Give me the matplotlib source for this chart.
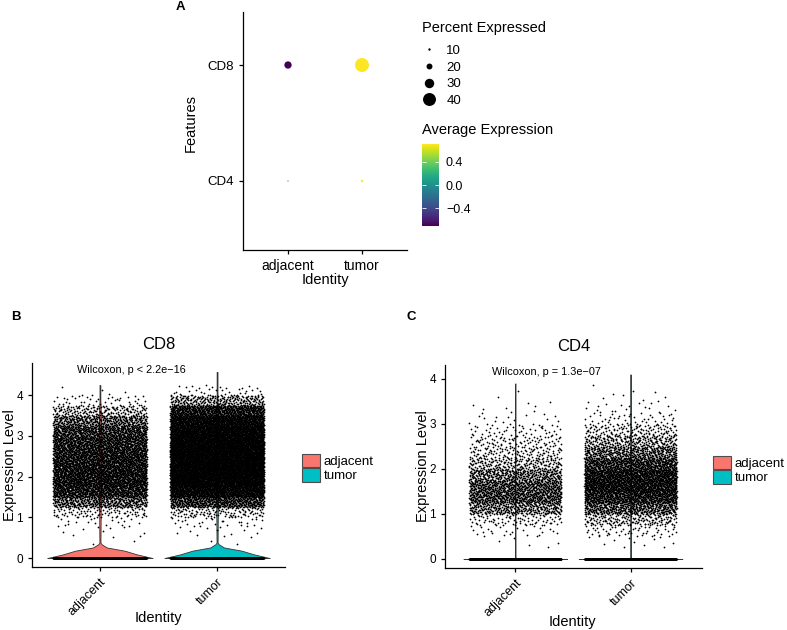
import numpy as np
import matplotlib
matplotlib.use("Agg")
import matplotlib.pyplot as plt
from matplotlib.patches import Patch
from matplotlib.lines import Line2D
from matplotlib.colors import Normalize
from matplotlib.cm import ScalarMappable

plt.rcParams['font.family'] = ['Liberation Sans', 'DejaVu Sans']

identities = ['adjacent', 'tumor']
fill_colors = ['#F8766D', '#00BFC4']

# panel A, DotPlot (rows = features, cols = identities)
features = ['CD4', 'CD8']
pct_expressed = [[6, 10], [24, 43]]
avg_expression = [[-0.707, 0.707], [-0.707, 0.707]]
size_breaks = [10, 20, 30, 40]
color_breaks = [-0.4, 0.0, 0.4]

# panels B/C, non-zero cells per 0.25 expression bin (read off the jitter clouds)
bin_edges = np.arange(0.25, 4.51, 0.25)
cd8_adjacent = [2, 8, 20, 95, 380, 680, 760, 760, 720, 680, 640, 550, 380, 170, 40, 6, 0]
cd8_tumor = [2, 10, 28, 120, 560, 1030, 1270, 1350, 1350, 1350, 1270, 1190, 1030, 720, 240, 34, 0]
cd4_adjacent = [5, 25, 85, 320, 500, 470, 340, 185, 110, 80, 45, 15, 8, 2, 1, 0, 0]
cd4_tumor = [10, 55, 170, 450, 720, 880, 820, 620, 380, 230, 120, 42, 18, 8, 2, 0, 0]
zero_cells = [800, 800]
cd8_max = [4.25, 4.57]
cd4_max = [3.9, 4.1]

# violin outline: height and relative half width
cd8_violin_y = [0, 0.09, 0.18, 0.26, 0.34, 0.38, 1.2, 2.4, 3.6, 3.9]
cd8_violin_w = [1.0, 0.7, 0.47, 0.13, 0.03, 0.01, 0.015, 0.03, 0.015, 0.008]
cd4_violin_y = [0, 0.015, 0.03]
cd4_violin_w = [1.0, 0.04, 0.004]

W, H = 787, 630


def box(l, t, r, b):
    # pixel box -> figure fraction
    return [l / W, 1 - b / H, (r - l) / W, (b - t) / H]


def dot_px(p):
    return 1 + 13 * (p - 6) / 37.0


def halton(n, base):
    i = np.arange(1, n + 1)
    f, r = 1.0, np.zeros(n)
    while (i > 0).any():
        f /= base
        r += f * (i % base)
        i //= base
    return r


def cells(counts):
    counts = np.asarray(counts, float)
    n = int(counts.sum())
    cdf = np.concatenate([[0], np.cumsum(counts)]) / n
    return np.interp(halton(n, 2), cdf, bin_edges)


def style(ax):
    for s in ['top', 'right']:
        ax.spines[s].set_visible(False)
    for s in ['left', 'bottom']:
        ax.spines[s].set_linewidth(0.9)
    ax.tick_params(length=3, width=0.9, colors='black')


def violin_panel(ax, groups, vy, vw, vmax, title, ptext, ptext_y):
    for i, (counts, c) in enumerate(zip(groups, fill_colors)):
        y = np.array(vy + [vmax[i]])
        w = np.array(vw + [vw[-1]]) * 0.45
        ax.fill_betweenx(y, i - w, i + w, facecolor=c, edgecolor='#333333', lw=0.6, zorder=1)
        vals = np.concatenate([np.zeros(zero_cells[i]), cells(counts)])
        jit = np.concatenate([halton(zero_cells[i], 3), halton(len(vals) - zero_cells[i], 3)])
        ax.scatter(i + (jit - 0.5) * 0.8, vals, s=1.6, c='black', linewidths=0, zorder=2)
    style(ax)
    ax.set_xticks([0, 1])
    ax.set_xticklabels(identities, rotation=45, ha='right', va='top', rotation_mode='anchor', fontsize=9)
    ax.set_yticks([0, 1, 2, 3, 4])
    ax.tick_params(axis='y', labelsize=8.5)
    ax.set_title(title, fontsize=12, pad=10)
    ax.set_xlabel('Identity', fontsize=10.5, va='center')
    ax.set_ylabel('Expression Level', fontsize=10.5, va='center')
    ax.text(-0.2, ptext_y, ptext, fontsize=7.8, ha='left', va='center')


fig = plt.figure(figsize=(W / 100, H / 100), dpi=100)

# ---- A
axA = fig.add_axes(box(243, 12, 407, 250))
norm = Normalize(-0.707, 0.707)
for fi, feat in enumerate(features):
    sizes = [(dot_px(p) * 0.72) ** 2 for p in pct_expressed[fi]]
    axA.scatter([0, 1], [fi, fi], s=sizes, c=avg_expression[fi], cmap='viridis', norm=norm,
                linewidths=0)
style(axA)
axA.set_xlim(-0.608, 1.608)
axA.set_ylim(-0.595, 1.457)
axA.set_xticks([0, 1])
axA.set_xticklabels(identities, fontsize=10)
axA.set_yticks([0, 1])
axA.set_yticklabels(features, fontsize=9.5)
axA.set_xlabel('Identity', fontsize=10.5, va='center')
axA.set_ylabel('Features', fontsize=10.5, va='center')
axA.xaxis.set_label_coords(0.5, -0.126)
axA.yaxis.set_label_coords(-0.317, 0.534)

size_handles = [Line2D([], [], ls='', marker='o', color='black', markeredgewidth=0,
                       markersize=dot_px(b) * 0.72) for b in size_breaks]
leg = fig.legend(size_handles, [str(b) for b in size_breaks], title='Percent Expressed',
                 loc='upper left', bbox_to_anchor=(422 / W, 1 - 21 / H), frameon=False,
                 fontsize=9.5, title_fontsize=10.5, alignment='left', handlelength=1.0,
                 handletextpad=0.85, labelspacing=0.33, borderpad=0, borderaxespad=0)
leg._legend_box.sep = 7

cax = fig.add_axes(box(422, 144, 439, 226))
cb = fig.colorbar(ScalarMappable(norm=norm, cmap='viridis'), cax=cax, ticks=color_breaks)
cb.outline.set_visible(False)
cb.set_ticklabels(['\u22120.4', '0.0', '0.4'])
cax.tick_params(direction='in', color='white', length=3, width=0.6, labelsize=9, pad=5,
                left=True)
fig.text(422 / W, 1 - 130 / H, 'Average Expression', fontsize=10.5, va='center', ha='left')

# ---- B
axB = fig.add_axes(box(32, 363, 285, 567))
violin_panel(axB, [cd8_adjacent, cd8_tumor], cd8_violin_y, cd8_violin_w, cd8_max,
             'CD8', 'Wilcoxon, p < 2.2e\u221216', 4.62)
axB.set_xlim(-0.58, 1.58)
axB.set_ylim(-0.22, 4.79)
axB.xaxis.set_label_coords(0.498, -0.25)
axB.yaxis.set_label_coords(-0.087, 0.5)

# ---- C
axC = fig.add_axes(box(445, 365, 702, 568))
violin_panel(axC, [cd4_adjacent, cd4_tumor], cd4_violin_y, cd4_violin_w, cd4_max,
             'CD4', 'Wilcoxon, p = 1.3e\u221207', 4.16)
axC.set_xlim(-0.61, 1.62)
axC.set_ylim(-0.2, 4.31)
axC.xaxis.set_label_coords(0.494, -0.266)
axC.yaxis.set_label_coords(-0.0856, 0.5)

fill_handles = [Patch(facecolor=c, edgecolor='#4d4d4d', lw=0.8) for c in fill_colors]
for x0, yc in [(302, 468), (713, 470)]:
    fig.legend(fill_handles, identities, loc='center left', bbox_to_anchor=(x0 / W, 1 - yc / H),
               frameon=False, fontsize=9.5, handlelength=1.35, handleheight=1.2,
               labelspacing=0, handletextpad=0.3, borderpad=0, borderaxespad=0)

for lab, x, y in [('A', 180, 7), ('B', 16, 317), ('C', 411, 317)]:
    fig.text(x / W, 1 - y / H, lab, fontsize=9.5, weight='bold', ha='center', va='center')

fig.savefig('out.png', dpi=100)
